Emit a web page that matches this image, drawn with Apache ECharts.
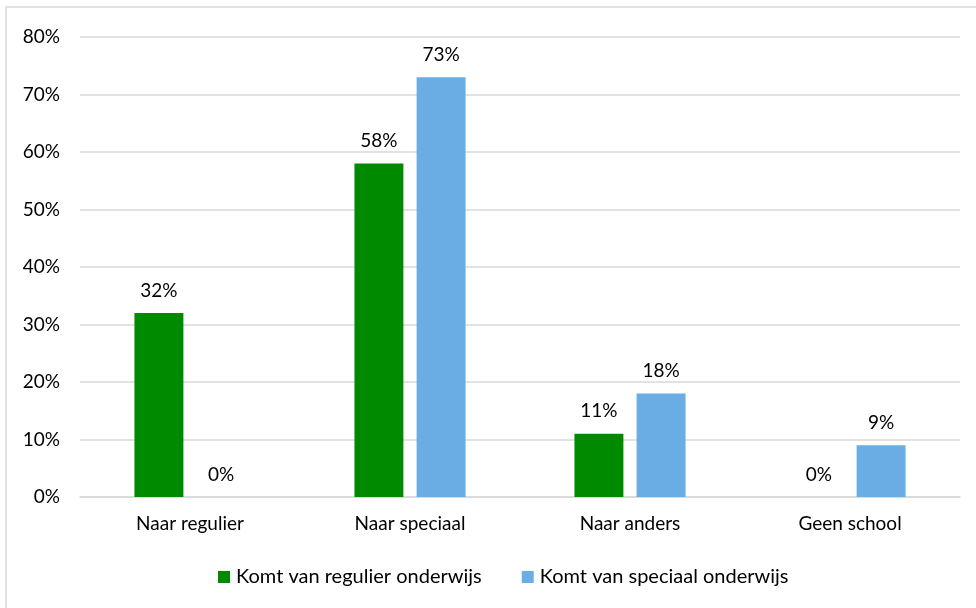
<!DOCTYPE html>
<html><head><meta charset="utf-8">
<script src="https://cdn.jsdelivr.net/npm/echarts@6/dist/echarts.min.js"></script>
<style>html,body{margin:0;padding:0;background:#fff}#c{width:976px;height:608px}</style>
</head><body><div id="c"></div>
<script>
const categories = ["Naar regulier", "Naar speciaal", "Naar anders", "Geen school"];
const seriesNames = ["Komt van regulier onderwijs", "Komt van speciaal onderwijs"];
const regulier = [32, 58, 11, 0];
const speciaal = [0, 73, 18, 9];
const yTicks = [0, 10, 20, 30, 40, 50, 60, 70, 80];

const chart = echarts.init(document.getElementById('c'));
const font = 'Lato, "Open Sans", sans-serif';
const fs = 19;
const lbl = {show: true, position: 'top', distance: 13, formatter: p => p.value + '%', color: '#000', fontSize: fs, fontFamily: font};
chart.setOption({
  animation: false,
  textStyle: {fontFamily: font},
  graphic: [{type: 'rect', shape: {x: 6, y: 7, width: 990, height: 620}, style: {fill: 'none', stroke: '#d9d9d9', lineWidth: 1.5}, silent: true}],
  grid: {left: 80, right: 16, top: 37, bottom: 111},
  legend: {
    bottom: 16, left: 213, itemWidth: 12, itemHeight: 12, itemGap: 40,
    icon: 'rect',
    textStyle: {fontSize: 20, color: '#000', fontFamily: font, padding: [0, 0, 0, 1]},
    data: seriesNames
  },
  xAxis: {
    type: 'category', data: categories,
    axisLine: {lineStyle: {color: '#d9d9d9', width: 1.5}},
    axisTick: {show: false},
    axisLabel: {color: '#000', fontSize: fs, margin: 17, fontFamily: font}
  },
  yAxis: {
    type: 'value', min: yTicks[0], max: yTicks[yTicks.length - 1], interval: 10,
    axisLine: {show: false}, axisTick: {show: false},
    axisLabel: {color: '#000', fontSize: fs, margin: 20, formatter: v => v + '%', fontFamily: font},
    splitLine: {lineStyle: {color: '#d9d9d9', width: 1.5}}
  },
  series: [
    {name: seriesNames[0], type: 'bar', data: regulier, itemStyle: {color: '#008a00'}, barGap: '27%', barCategoryGap: '49.5%', label: lbl},
    {name: seriesNames[1], type: 'bar', data: speciaal, itemStyle: {color: '#6aade4'}, label: lbl}
  ]
});
</script></body></html>
